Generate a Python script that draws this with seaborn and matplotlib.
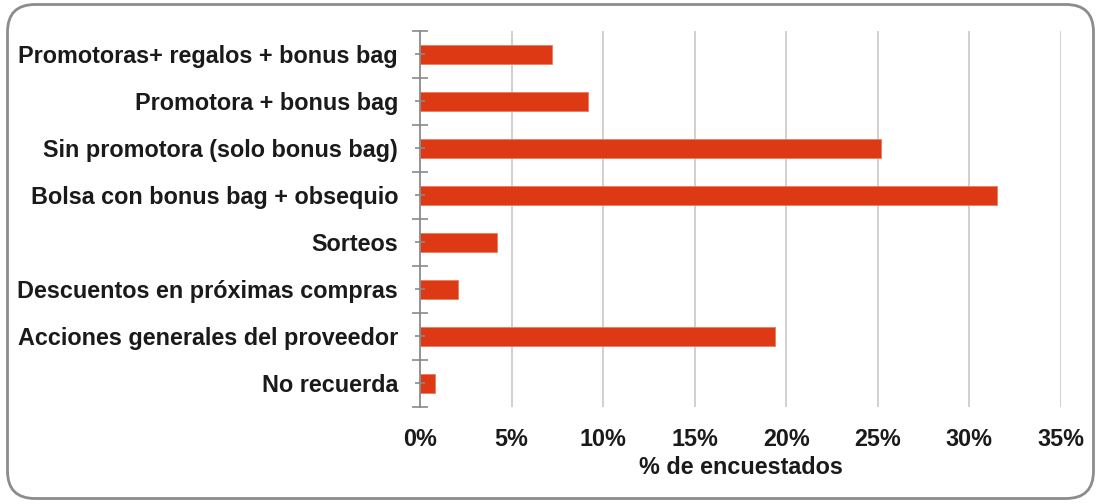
import matplotlib
matplotlib.use("Agg")
import matplotlib.pyplot as plt
import seaborn as sns
import pandas as pd
import numpy as np
from matplotlib.patches import FancyBboxPatch
from matplotlib.ticker import FuncFormatter, FixedLocator

categories = [
    "Promotoras+ regalos + bonus bag",
    "Promotora + bonus bag",
    "Sin promotora (solo bonus bag)",
    "Bolsa con bonus bag + obsequio",
    "Sorteos",
    "Descuentos en próximas compras",
    "Acciones generales del proveedor",
    "No recuerda",
]
values = [7.2, 9.2, 25.2, 31.5, 4.2, 2.1, 19.4, 0.8]
x_ticks = [0, 5, 10, 15, 20, 25, 30, 35]
x_label = "% de encuestados"

bar_color = "#DD3914"
text_color = "#1a1a1a"
grid_color = "#c8c8c8"
axis_color = "#8a8a8a"

sns.set_theme(style="white")
plt.rcParams["font.family"] = ["Liberation Sans", "DejaVu Sans"]
plt.rcParams["font.weight"] = "bold"

df = pd.DataFrame({"categoria": categories, "valor": values})

fig = plt.figure(figsize=(11, 5.04), dpi=100)
ax = fig.add_axes([0.3818, 0.1925, 0.5827, 0.746])

sns.barplot(data=df, x="valor", y="categoria", orient="h", color=bar_color,
            width=0.4, saturation=1, edgecolor="#f07a5a", linewidth=0.6, ax=ax)

ax.set_xlim(0, 35)
ax.set_ylim(len(categories) - 0.5, -0.5)

# vertical gridlines every 5%, kept behind the bars
ax.xaxis.set_major_locator(FixedLocator(x_ticks))
ax.xaxis.set_major_formatter(FuncFormatter(lambda v, p: f"{v:.0f}%"))
for t in x_ticks[1:]:
    ax.axvline(t, color=grid_color, linewidth=1.2, zorder=0)
# axis ticks drawn on top of the bars
ax.set_axisbelow(False)

for s in ["top", "right", "bottom"]:
    ax.spines[s].set_visible(False)
ax.spines["left"].set_color(axis_color)
ax.spines["left"].set_linewidth(1.3)
ax.spines["left"].set_zorder(3)

# category ticks at bar centres, separator ticks at boundaries
ax.yaxis.set_minor_locator(FixedLocator(np.arange(-0.5, len(categories), 1.0)))
ax.tick_params(axis="y", which="both", left=True)
ax.tick_params(axis="y", which="major", direction="inout", length=7.5, width=1.2,
               color=axis_color, pad=12, labelsize=16.8, labelcolor=text_color)
ax.tick_params(axis="y", which="minor", direction="inout", length=11, width=1.2,
               color=axis_color)
ax.tick_params(axis="x", which="major", bottom=False, length=0, pad=15,
               labelsize=16.8, labelcolor=text_color)
for lab in ax.get_yticklabels() + ax.get_xticklabels():
    lab.set_fontweight("bold")

ax.set_ylabel("")
ax.set_xlabel(x_label, fontsize=16.8, fontweight="bold", color=text_color, labelpad=4)

# rounded frame around the whole chart
frame = FancyBboxPatch((7.5 / 1100, 5.5 / 504), 1086 / 1100, 494 / 504,
                       boxstyle="round,pad=0,rounding_size=0.025",
                       transform=fig.transFigure, fill=False,
                       edgecolor="#8c8c8c", linewidth=2, mutation_aspect=1100 / 504)
fig.patches.append(frame)

fig.savefig("out.png", dpi=100, facecolor="white")
